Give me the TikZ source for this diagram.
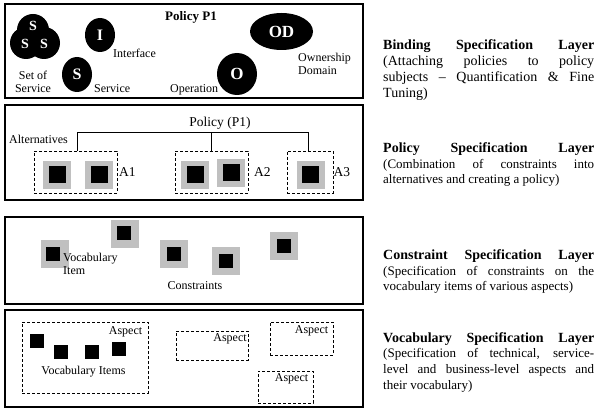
\documentclass[tikz,border=0pt]{standalone}
\usepackage{fontspec}
\setmainfont{Liberation Serif}
\usetikzlibrary{shapes.geometric}
\setlength{\parindent}{0pt}
\definecolor{sqgray}{RGB}{192,192,192}
\begin{document}
\begin{tikzpicture}[x=1pt,y=-1pt,
 layerbox/.style={draw, line width=1.2pt, inner sep=0pt, outer sep=0pt},
 dashbox/.style={draw, line width=0.9pt, dash pattern=on 3pt off 2pt, inner sep=0pt, outer sep=0pt},
 graysq/.style={fill=sqgray, minimum size=28pt, inner sep=0pt},
 blksq/.style={fill=black, minimum size=#1, inner sep=0pt},
 blob/.style={ellipse, fill=black, text=white, inner sep=0pt, font=\fontsize{16}{16}\selectfont\bfseries},
 wlet/.style={inner sep=0pt, text=white, font=\fontsize{14}{14}\selectfont\bfseries},
 lbl/.style={inner sep=0pt, font=\fontsize{12}{13}\selectfont},
 biglbl/.style={inner sep=0pt, font=\fontsize{13.5}{15}\selectfont},
 desc/.style={anchor=base west, text width=211pt, align=justify, inner sep=0pt},
 conn/.style={line width=0.8pt}
]
\fill[white] (0,0) rectangle (601,411);
\useasboundingbox (0,0) rectangle (601,411);

% layer boxes
\node[layerbox, minimum width=358pt, minimum height=94pt] (L1) at (184,51) {};
\node[layerbox, minimum width=358pt, minimum height=95pt] (L2) at (184,152.5) {};
\node[layerbox, minimum width=358pt, minimum height=87pt] (L3) at (184,260.5) {};
\node[layerbox, minimum width=358pt, minimum height=97pt] (L4) at (184,358.5) {};

% ---- Binding layer
\node[blob, minimum width=32pt, minimum height=32pt] (s1) at (33,30) {};
\node[blob, minimum width=32pt, minimum height=32pt] (s2) at (26,43) {};
\node[blob, minimum width=32pt, minimum height=32pt] (s3) at (44,43) {};
\node[wlet] (s1l) at (33,26) {S};
\node[wlet] (s2l) at (25,44) {S};
\node[wlet] (s3l) at (44,44) {S};
\node[lbl, align=center] (setlbl) at (33,81.5) {Set of\\Service};
\node[blob, minimum width=30pt, minimum height=34pt] (iface) at (100,35) {I};
\node[lbl, anchor=west] (ifacelbl) at (113,53) {Interface};
\node[blob, minimum width=30pt, minimum height=35pt] (serv) at (77,74.5) {S};
\node[lbl, anchor=west] (servlbl) at (94,89) {Service};
\node[inner sep=0pt, font=\fontsize{13}{13}\selectfont\bfseries] (p1) at (191,17) {Policy P1};
\node[blob, minimum width=63pt, minimum height=37pt, font=\fontsize{17}{17}\selectfont\bfseries] (od) at (281.5,31.5) {OD};
\node[lbl, anchor=west, align=left] (odlbl) at (298,63.5) {Ownership\\Domain};
\node[blob, minimum width=40pt, minimum height=42pt, font=\fontsize{17}{17}\selectfont\bfseries] (op) at (237,74) {O};
\node[lbl, anchor=west] (oplbl) at (170,90) {Operation};

% ---- Policy layer
\node[biglbl] (pol) at (220,123) {Policy (P1)};
\node[lbl] (alt) at (38.5,139) {Alternatives};
\node[dashbox, minimum width=83pt, minimum height=42pt] (A1) at (75.5,172) {};
\node[dashbox, minimum width=73pt, minimum height=42pt] (A2) at (211.5,172) {};
\node[dashbox, minimum width=46pt, minimum height=42pt] (A3) at (310,172) {};
\draw[conn] ([xshift=1.5pt]A1.north) -- ++(0,-19) coordinate (bar1) -| ([xshift=-2pt]A3.north);
\draw[conn] (A2.north) -- (A2.north |- bar1);
\node[biglbl, anchor=west] (a1l) at (119,172) {A1};
\node[biglbl, anchor=west] (a2l) at (254,172) {A2};
\node[biglbl, anchor=west] (a3l) at (333.5,172) {A3};
\node[graysq] (g11) at (57,175) {};
\node[blksq=17pt] (b11) at (57,175) {};
\node[graysq] (g12) at (99,175) {};
\node[blksq=17pt] (b12) at (99,175) {};
\node[graysq] (g21) at (195,175) {};
\node[blksq=17pt] (b21) at (195,175) {};
\node[graysq] (g22) at (231,173) {};
\node[blksq=17pt] (b22) at (231,173) {};
\node[graysq] (g31) at (310.5,175) {};
\node[blksq=17pt] (b31) at (310.5,175) {};

% ---- Constraint layer
\node[graysq] (c1) at (54.5,254) {};
\node[blksq=14pt] (c1b) at (53,253.5) {};
\node[graysq] (c2) at (125,234) {};
\node[blksq=14pt] (c2b) at (124,233.5) {};
\node[graysq] (c3) at (174,254) {};
\node[blksq=14pt] (c3b) at (173.5,253.5) {};
\node[graysq] (c4) at (226,261) {};
\node[blksq=14pt] (c4b) at (226,261) {};
\node[graysq] (c5) at (284,246) {};
\node[blksq=14pt] (c5b) at (284,246) {};
\node[lbl, anchor=west, align=left] (vilbl) at (63,263.5) {Vocabulary\\Item};
\node[lbl] (conlbl) at (195,286) {Constraints};

% ---- Vocabulary layer
\node[dashbox, minimum width=126pt, minimum height=71pt] (asp1) at (85,357.5) {};
\node[dashbox, minimum width=72pt, minimum height=29pt] (asp2) at (212,345.5) {};
\node[dashbox, minimum width=63pt, minimum height=33pt] (asp3) at (301.5,338.5) {};
\node[dashbox, minimum width=55pt, minimum height=32pt] (asp4) at (285.5,387) {};
\node[lbl] (asp1l) at (125.5,332) {Aspect};
\node[lbl] (asp2l) at (230,339) {Aspect};
\node[lbl] (asp3l) at (311.5,331) {Aspect};
\node[lbl] (asp4l) at (291.5,379) {Aspect};
\node[blksq=14pt] (v1) at (37,341) {};
\node[blksq=14pt] (v2) at (61,352) {};
\node[blksq=14pt] (v3) at (92,352) {};
\node[blksq=14pt] (v4) at (118.5,349) {};
\node[lbl] (vislbl) at (83.5,372) {Vocabulary Items};

% ---- right-hand descriptions
\node[desc] (t1) at (383,49.5) {{\fontsize{14}{16}\selectfont\bfseries\parfillskip=0pt Binding Specification Layer\par}\fontsize{14}{16}\selectfont (Attaching policies to policy\linebreak subjects \textendash{} Quantification \& Fine\linebreak Tuning)\par};
\node[desc] (t2) at (383,152.5) {{\fontsize{14}{16}\selectfont\bfseries\parfillskip=0pt Policy Specification Layer\par}\vspace{1.5pt}\fontsize{13}{15}\selectfont (Combination of constraints into\linebreak alternatives and creating a policy)\par};
\node[desc] (t3) at (383,259.5) {{\fontsize{14}{16}\selectfont\bfseries\parfillskip=0pt Constraint Specification Layer\par}\vspace{0.5pt}\fontsize{13}{15}\selectfont (Specification of constraints on the\linebreak vocabulary items of various aspects)\par};
\node[desc] (t4) at (383,342.5) {{\fontsize{14}{16}\selectfont\bfseries\parfillskip=0pt Vocabulary Specification Layer\par}\vspace{-1.5pt}\fontsize{13}{16}\selectfont (Specification of technical, service-\linebreak level and business-level aspects and\linebreak their vocabulary)\par};
\end{tikzpicture}
\end{document}
